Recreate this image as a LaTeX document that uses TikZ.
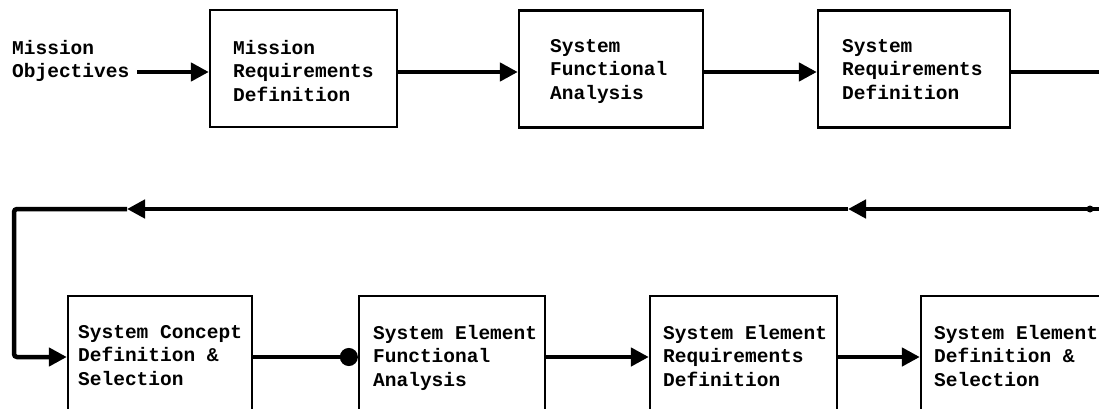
\documentclass[tikz,border=0pt]{standalone}
\usepackage{fontspec}
\setmonofont{Liberation Mono}
\usetikzlibrary{arrows.meta,calc}
\tikzset{
  blk/.style={draw, rectangle, line width=2.3pt, inner sep=0pt},
  txt/.style={font=\ttfamily\bfseries\fontsize{19.5}{23.5}\selectfont, align=left, anchor=north west, inner sep=0pt},
  wire/.style={line width=4.5pt},
  con/.style={wire, -{Triangle[length=18pt,width=18pt]}},
  dotcon/.style={wire, -{Circle[length=18pt]}},
}
\begin{document}
\begin{tikzpicture}[x=1pt,y=-1pt]
\useasboundingbox (0,0) rectangle (1099,409);
\clip (0,0) rectangle (1099,409);
% top row
\node[blk, minimum width=187pt, minimum height=117pt] (b1) at (303.5,68.5) {};
\node[blk, minimum width=184pt, minimum height=117pt] (b2) at (611,69) {};
\node[blk, minimum width=192pt, minimum height=117pt] (b3) at (914,69) {};
\node[txt] (in) at (12,40) {Mission\\Objectives};
\node[txt] (t1) at (233,40) {Mission\\Requirements\\Definition};
\node[txt] (t2) at (550,39) {System\\Functional\\Analysis};
\node[txt] (t3) at (842,39) {System\\Requirements\\Definition};
% bottom row
\node[blk, minimum width=184pt, minimum height=122pt] (b4) at (160,357) {};
\node[blk, minimum width=186pt, minimum height=122pt] (b5) at (452,357) {};
\node[blk, minimum width=187pt, minimum height=122pt] (b6) at (743.5,357) {};
\node[blk, minimum width=200pt, minimum height=122pt] (b7) at (1021,357) {};
\node[txt] (t4) at (78,325) {System Concept\\Definition \&\\Selection};
\node[txt] (t5) at (373,325) {System Element\\Functional\\Analysis};
\node[txt] (t6) at (663,325) {System Element\\Requirements\\Definition};
\node[txt] (t7) at (934,325) {System Element\\Definition \&\\Selection};
% top connectors
\coordinate (s0) at (137,72);
\coordinate (e0) at (1099,72);
\draw[con] (s0) -- (s0 -| b1.west);
\draw[con] (s0 -| b1.east) -- (s0 -| b2.west);
\draw[con] (s0 -| b2.east) -- (s0 -| b3.west);
\draw[wire] (s0 -| b3.east) -- (e0);
% feedback
\coordinate (e1) at (1099,209);
\coordinate (fa) at (848,209);
\coordinate (fb) at (127,209);
\coordinate (fc) at (14,209);
\fill (1090,209) circle (3.5pt);
\draw[con] (e1) -- (fa);
\draw[con] (fa) -- (fb);
\draw[con, rounded corners=3pt] (fb) -- (fc) -- (fc |- b4.west) -- (b4.west);
% bottom connectors
\draw[dotcon] (b4.east) -- (b5.west);
\draw[con] (b5.east) -- (b6.west);
\draw[con] (b6.east) -- (b7.west);
\end{tikzpicture}
\end{document}
